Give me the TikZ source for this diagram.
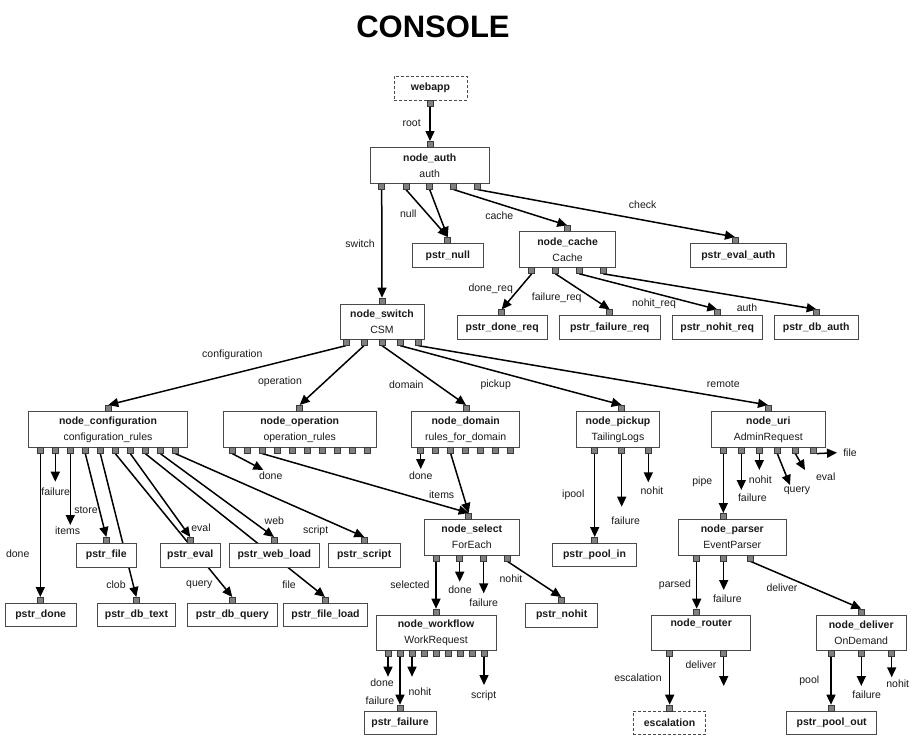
\documentclass[tikz,border=0pt]{standalone}
\usepackage{fontspec}
\setmainfont{Liberation Sans}
\usetikzlibrary{arrows.meta}
\pgfdeclarelayer{bg}
\pgfsetlayers{bg,main}
\definecolor{boxc}{HTML}{4A4A4A}
\definecolor{portfill}{HTML}{808080}
\definecolor{portline}{HTML}{3A3A3A}
\definecolor{labc}{HTML}{1A1A1A}
\tikzset{
 box/.style={draw=boxc, fill=white, line width=0.8pt, inner sep=0pt, align=center, text=labc, font=\fontsize{10.5}{16}\selectfont},
 dbox/.style={box, dash pattern=on 3pt off 2pt},
 port/.style={draw=portline, fill=portfill, line width=0.6pt, minimum size=6pt, inner sep=0pt},
 arr/.style={draw=black, line width=1.5pt, -{Triangle[length=10pt,width=9pt]}},
 lbl/.style={font=\fontsize{10.5}{12}\selectfont, text=labc, inner sep=0pt},
}
\begin{document}
\begin{tikzpicture}[x=1pt,y=-1pt]
\useasboundingbox (0,0) rectangle (915,736);
\begin{pgfonlayer}{bg}
\fill[white] (0,0) rectangle (915,736);
\end{pgfonlayer}
\node[font=\bfseries\fontsize{31}{31}\selectfont] (title) at (433,27) {CONSOLE};

% ---------- boxes ----------
\node[dbox, minimum width=73pt, minimum height=24pt] (webapp) at (430.5,88) {\textbf{webapp}};
\node[box, minimum width=119.3pt, minimum height=36pt] (auth) at (429.7,165.3) {\textbf{node\_auth}\\auth};
\node[box, minimum width=71.7pt, minimum height=24.3pt] (null) at (447.8,255.5) {\textbf{pstr\_null}};
\node[box, minimum width=96.2pt, minimum height=35.8pt] (cache) at (567.6,249.6) {\textbf{node\_cache}\\Cache};
\node[box, minimum width=95.7pt, minimum height=24.2pt] (evalauth) at (738.3,255.4) {\textbf{pstr\_eval\_auth}};
\node[box, minimum width=90.3pt, minimum height=23.3pt] (donereq) at (502.2,327.3) {\textbf{pstr\_done\_req}};
\node[box, minimum width=101.3pt, minimum height=23.3pt] (failreq) at (609.7,327.3) {\textbf{pstr\_failure\_req}};
\node[box, minimum width=89.7pt, minimum height=23.3pt] (nohitreq) at (717.2,327.3) {\textbf{pstr\_nohit\_req}};
\node[box, minimum width=84.3pt, minimum height=23.3pt] (dbauth) at (816.2,327.3) {\textbf{pstr\_db\_auth}};
\node[box, minimum width=84pt, minimum height=35.3pt] (switch) at (382,321.7) {\textbf{node\_switch}\\CSM};
\node[box, minimum width=158.6pt, minimum height=36pt] (conf) at (108,429.3) {\textbf{node\_configuration}\\configuration\_rules};
\node[box, minimum width=152.7pt, minimum height=36pt] (oper) at (299.7,429.3) {\textbf{node\_operation}\\operation\_rules};
\node[box, minimum width=108pt, minimum height=36pt] (dom) at (465.7,429.3) {\textbf{node\_domain}\\rules\_for\_domain};
\node[box, minimum width=82.6pt, minimum height=36pt] (pick) at (618,429.3) {\textbf{node\_pickup}\\TailingLogs};
\node[box, minimum width=113.3pt, minimum height=36pt] (uri) at (768.3,429.3) {\textbf{node\_uri}\\AdminRequest};
\node[box, minimum width=71.3pt, minimum height=23.4pt] (pdone) at (40.7,615) {\textbf{pstr\_done}};
\node[box, minimum width=60pt, minimum height=23.7pt] (pfile) at (106.3,555.2) {\textbf{pstr\_file}};
\node[box, minimum width=78.4pt, minimum height=23.4pt] (dbtext) at (136.5,615) {\textbf{pstr\_db\_text}};
\node[box, minimum width=60pt, minimum height=23.7pt] (peval) at (190.3,555.2) {\textbf{pstr\_eval}};
\node[box, minimum width=90pt, minimum height=23.4pt] (dbquery) at (232.3,615) {\textbf{pstr\_db\_query}};
\node[box, minimum width=90pt, minimum height=23.7pt] (webload) at (274.3,555.2) {\textbf{pstr\_web\_load}};
\node[box, minimum width=84.4pt, minimum height=23.4pt] (fileload) at (325.5,615) {\textbf{pstr\_file\_load}};
\node[box, minimum width=71.7pt, minimum height=23.7pt] (pscript) at (364.2,555.2) {\textbf{pstr\_script}};
\node[box, minimum width=95.7pt, minimum height=35.7pt] (select) at (471.8,537.2) {\textbf{node\_select}\\ForEach};
\node[box, minimum width=83.6pt, minimum height=23.4pt] (poolin) at (594.5,555) {\textbf{pstr\_pool\_in}};
\node[box, minimum width=107.3pt, minimum height=35.7pt] (parser) at (732.3,537.2) {\textbf{node\_parser}\\EventParser};
\node[box, minimum width=72pt, minimum height=23.7pt] (pnohit) at (561.7,615.2) {\textbf{pstr\_nohit}};
\node[box, minimum width=120pt, minimum height=35.7pt] (workflow) at (436,632.8) {\textbf{node\_workflow}\\WorkRequest};
\node[box, minimum width=99pt, minimum height=35.7pt] (router) at (701.2,632.8) {\textbf{node\_router}\\\strut};
\node[box, minimum width=89.7pt, minimum height=35.7pt] (deliver) at (861.2,632.8) {\textbf{node\_deliver}\\OnDemand};
\node[box, minimum width=72pt, minimum height=23.3pt] (pfailure) at (400,722.7) {\textbf{pstr\_failure}};
\node[dbox, minimum width=72.4pt, minimum height=23.3pt] (escal) at (669.5,722.7) {\textbf{escalation}};
\node[box, minimum width=90pt, minimum height=23.3pt] (poolout) at (831.7,722.7) {\textbf{pstr\_pool\_out}};

% ---------- ports ----------
\node[port] (webapp-b) at (430,103) {};
\node[port] (auth-t) at (430,144.3) {};
\foreach \x [count=\i] in {381.7,406,429.7,453.7,477.7} {\node[port] (auth-b\i) at (\x,186.3) {};}
\node[port] (null-t) at (447.7,240.3) {};
\node[port] (cache-t) at (567.3,228.7) {};
\foreach \x [count=\i] in {531.7,555.5,579.3,603.3} {\node[port] (cache-b\i) at (\x,270.5) {};}
\node[port] (evalauth-t) at (735,240.3) {};
\node[port] (donereq-t) at (501.7,312.7) {};
\node[port] (failreq-t) at (609.7,312.7) {};
\node[port] (nohitreq-t) at (717.3,312.7) {};
\node[port] (dbauth-t) at (816.7,312.7) {};
\node[port] (switch-t) at (382,301) {};
\foreach \x [count=\i] in {346,364,382,400,418} {\node[port] (switch-b\i) at (\x,342.3) {};}
\node[port] (conf-t) at (108.3,408.3) {};
\foreach \x [count=\i] in {40.3,55.3,70.3,85.3,100.3,115.3,130.3,145.3,160.3,175.3} {\node[port] (conf-b\i) at (\x,450.3) {};}
\node[port] (oper-t) at (299.7,408.3) {};
\foreach \x [count=\i] in {232.3,247.3,262.3,277.3,292.3,307.3,322.3,337.3,352.3,367.3} {\node[port] (oper-b\i) at (\x,450.3) {};}
\node[port] (dom-t) at (466,408.3) {};
\foreach \x [count=\i] in {420.7,435.7,450.7,465.7,480.7,495.7,510.7} {\node[port] (dom-b\i) at (\x,450.3) {};}
\node[port] (pick-t) at (621.7,408.3) {};
\foreach \x [count=\i] in {594.7,621.7,648.3} {\node[port] (pick-b\i) at (\x,450.3) {};}
\node[port] (uri-t) at (768,408.3) {};
\foreach \x [count=\i] in {723.3,741.3,759.3,777.3,795.3,813.3} {\node[port] (uri-b\i) at (\x,450.3) {};}
\node[port] (pdone-t) at (40.3,600.3) {};
\node[port] (pfile-t) at (106.3,540.3) {};
\node[port] (dbtext-t) at (136.3,600.3) {};
\node[port] (peval-t) at (190.3,540.3) {};
\node[port] (dbquery-t) at (232.3,600.3) {};
\node[port] (webload-t) at (274,540.3) {};
\node[port] (fileload-t) at (325,600.3) {};
\node[port] (pscript-t) at (364.3,540.3) {};
\node[port] (select-t) at (468.7,516.3) {};
\foreach \x [count=\i] in {436,459.7,483.7,507.3} {\node[port] (select-b\i) at (\x,558) {};}
\node[port] (poolin-t) at (594.7,540.3) {};
\node[port] (parser-t) at (723.3,516.3) {};
\foreach \x [count=\i] in {696.7,723.7,750.3} {\node[port] (parser-b\i) at (\x,558) {};}
\node[port] (pnohit-t) at (561.3,600.3) {};
\node[port] (workflow-t) at (436,612) {};
\foreach \x [count=\i] in {388,400,412,424,436,448,460,472,484} {\node[port] (workflow-b\i) at (\x,653.7) {};}
\node[port] (router-t) at (696.7,612) {};
\foreach \x [count=\i] in {669.7,723.7} {\node[port] (router-b\i) at (\x,653.7) {};}
\node[port] (deliver-t) at (861.3,612) {};
\foreach \x [count=\i] in {831,861.3,891.7} {\node[port] (deliver-b\i) at (\x,653.7) {};}
\node[port] (pfailure-t) at (400,708) {};
\node[port] (escal-t) at (669.7,708) {};
\node[port] (poolout-t) at (831,708) {};

% ---------- free ends ----------
\coordinate (conf-e2) at (55.3,481.7);
\coordinate (conf-e3) at (70.3,525);
\coordinate (oper-e1) at (263.3,470);
\coordinate (dom-e1) at (420.7,469);
\coordinate (pick-e2) at (621.7,506.7);
\coordinate (pick-e3) at (648.3,482.3);
\coordinate (uri-e2) at (741.3,490);
\coordinate (uri-e3) at (759.3,470);
\coordinate (uri-e4) at (790,485);
\coordinate (uri-e5) at (805,470);
\coordinate (uri-e6) at (837,452.7);
\coordinate (sel-e2) at (459.7,581.7);
\coordinate (sel-e3) at (483.7,593.3);
\coordinate (wf-e1) at (388,676.7);
\coordinate (wf-e3) at (412,676.7);
\coordinate (wf-e9) at (484,685);
\coordinate (par-e2) at (723.7,590);
\coordinate (rt-e2) at (723.7,686);
\coordinate (dl-e2) at (861.3,686);
\coordinate (dl-e3) at (891.7,677.3);

% ---------- connectors ----------
\begin{pgfonlayer}{bg}
\draw[arr] (webapp-b.south) -- (auth-t.north);
\draw[arr] (auth-b1.south) -- (switch-t.north);
\draw[arr] (auth-b2.south) -- (null-t.north);
\draw[arr] (auth-b3.south) -- (null-t.north);
\draw[arr] (auth-b4.south) -- (cache-t.north);
\draw[arr] (auth-b5.south) -- (evalauth-t.north);
\draw[arr] (cache-b1.south) -- (donereq-t.north);
\draw[arr] (cache-b2.south) -- (failreq-t.north);
\draw[arr] (cache-b3.south) -- (nohitreq-t.north);
\draw[arr] (cache-b4.south) -- (dbauth-t.north);
\draw[arr] (switch-b1.south) -- (conf-t.north);
\draw[arr] (switch-b2.south) -- (oper-t.north);
\draw[arr] (switch-b3.south) -- (dom-t.north);
\draw[arr] (switch-b4.south) -- (pick-t.north);
\draw[arr] (switch-b5.south) -- (uri-t.north);
\draw[arr] (conf-b1.south) -- (pdone-t.north);
\draw[arr] (conf-b2.south) -- (conf-e2);
\draw[arr] (conf-b3.south) -- (conf-e3);
\draw[arr] (conf-b4.south) -- (pfile-t.north);
\draw[arr] (conf-b5.south) -- (dbtext-t.north);
\draw[arr] (conf-b6.south) -- (dbquery-t.north);
\draw[arr] (conf-b7.south) -- (peval-t.north);
\draw[arr] (conf-b8.south) -- (fileload-t.north);
\draw[arr] (conf-b9.south) -- (webload-t.north);
\draw[arr] (conf-b10.south) -- (pscript-t.north);
\draw[arr] (oper-b1.south) -- (oper-e1);
\draw[arr] (oper-b3.south) -- (select-t.north);
\draw[arr] (dom-b1.south) -- (dom-e1);
\draw[arr] (dom-b3.south) -- (select-t.north);
\draw[arr] (pick-b1.south) -- (poolin-t.north);
\draw[arr] (pick-b2.south) -- (pick-e2);
\draw[arr] (pick-b3.south) -- (pick-e3);
\draw[arr] (uri-b1.south) -- (parser-t.north);
\draw[arr] (uri-b2.south) -- (uri-e2);
\draw[arr] (uri-b3.south) -- (uri-e3);
\draw[arr] (uri-b4.south) -- (uri-e4);
\draw[arr] (uri-b5.south) -- (uri-e5);
\draw[arr] (uri-b6.south east) -- (uri-e6);
\draw[arr] (select-b1.south) -- (workflow-t.north);
\draw[arr] (select-b2.south) -- (sel-e2);
\draw[arr] (select-b3.south) -- (sel-e3);
\draw[arr] (select-b4.south) -- (pnohit-t.north);
\draw[arr] (workflow-b1.south) -- (wf-e1);
\draw[arr] (workflow-b2.south) -- (pfailure-t.north);
\draw[arr] (workflow-b3.south) -- (wf-e3);
\draw[arr] (workflow-b9.south) -- (wf-e9);
\draw[arr] (parser-b1.south) -- (router-t.north);
\draw[arr] (parser-b2.south) -- (par-e2);
\draw[arr] (parser-b3.south) -- (deliver-t.north);
\draw[arr] (router-b1.south) -- (escal-t.north);
\draw[arr] (router-b2.south) -- (rt-e2);
\draw[arr] (deliver-b1.south) -- (poolout-t.north);
\draw[arr] (deliver-b2.south) -- (dl-e2);
\draw[arr] (deliver-b3.south) -- (dl-e3);
\end{pgfonlayer}

% ---------- labels ----------
\node[lbl] (l-root) at (411.7,123.3) {root};
\node[lbl] (l-switch) at (360,243.3) {switch};
\node[lbl] (l-null) at (408.3,213.3) {null};
\node[lbl] (l-cache) at (499.3,216) {cache};
\node[lbl] (l-check) at (642.7,204.3) {check};
\node[lbl] (l-donereq) at (490.7,288.7) {done\_req};
\node[lbl] (l-failreq) at (556.7,298) {failure\_req};
\node[lbl] (l-nohitreq) at (654,303.3) {nohit\_req};
\node[lbl] (l-auth) at (747,307.7) {auth};
\node[lbl] (l-conf) at (232.3,354.3) {configuration};
\node[lbl] (l-oper) at (280,381.7) {operation};
\node[lbl] (l-dom) at (406.3,384.3) {domain};
\node[lbl] (l-pick) at (495.7,384.3) {pickup};
\node[lbl] (l-remote) at (723.3,384.3) {remote};
\node[lbl] (l-cdone) at (17.7,554) {done};
\node[lbl] (l-cfail) at (55.7,491.7) {failure};
\node[lbl] (l-citems) at (67.7,530.3) {items};
\node[lbl] (l-store) at (86,510) {store};
\node[lbl] (l-clob) at (116,585) {clob};
\node[lbl] (l-eval) at (201,527.3) {eval};
\node[lbl] (l-query) at (199.3,584.3) {query};
\node[lbl] (l-web) at (274.3,521) {web};
\node[lbl] (l-file) at (289,584.3) {file};
\node[lbl] (l-script) at (315.7,530.3) {script};
\node[lbl] (l-odone) at (270.7,476) {done};
\node[lbl] (l-ddone) at (420.7,476) {done};
\node[lbl] (l-ditems) at (441.7,494.3) {items};
\node[lbl] (l-ipool) at (573.3,494.3) {ipool};
\node[lbl] (l-pfail) at (625.7,521) {failure};
\node[lbl] (l-pnohit) at (652,491) {nohit};
\node[lbl] (l-selected) at (410,584.3) {selected};
\node[lbl] (l-sdone) at (460,589.3) {done};
\node[lbl] (l-sfail) at (483.7,602.3) {failure};
\node[lbl] (l-snohit) at (511,578.7) {nohit};
\node[lbl] (l-wdone) at (382,682.3) {done};
\node[lbl] (l-wfail) at (380,700.3) {failure};
\node[lbl] (l-wnohit) at (420,691.3) {nohit};
\node[lbl] (l-wscript) at (483.7,695.3) {script};
\node[lbl] (l-pipe) at (702.3,482) {pipe};
\node[lbl] (l-ufail) at (752.3,497.3) {failure};
\node[lbl] (l-unohit) at (760.3,479.3) {nohit};
\node[lbl] (l-uquery) at (797,491) {query};
\node[lbl] (l-ueval) at (825.7,476.7) {eval};
\node[lbl] (l-ufile) at (850,452.7) {file};
\node[lbl] (l-parsed) at (675,584.3) {parsed};
\node[lbl] (l-parfail) at (727.3,598.3) {failure};
\node[lbl] (l-pdeliver) at (782,587.3) {deliver};
\node[lbl] (l-escal) at (638,677.3) {escalation};
\node[lbl] (l-rdeliver) at (701,665) {deliver};
\node[lbl] (l-pool) at (809.3,680.7) {pool};
\node[lbl] (l-dfail) at (866.7,694.7) {failure};
\node[lbl] (l-dnohit) at (897.7,683.3) {nohit};
\end{tikzpicture}
\end{document}
